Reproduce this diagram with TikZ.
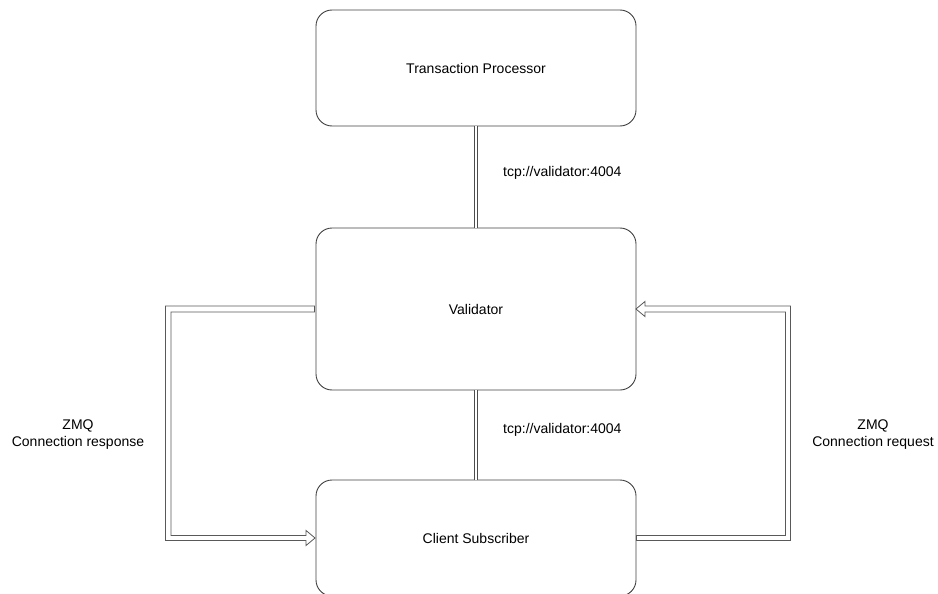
\documentclass[tikz,border=0pt]{standalone}
\usepackage{fontspec}
\setmainfont{Liberation Sans}
\usetikzlibrary{calc}
\begin{document}
\begin{tikzpicture}[x=1pt,y=-1pt,
  box/.style={draw=black!75, line width=0.9pt, rounded corners=16pt, minimum width=320pt, minimum height=116pt, inner sep=0pt, font=\fontsize{14}{17}\selectfont},
  lbl/.style={font=\fontsize{14}{17}\selectfont, inner sep=0pt, align=center},
  dbl/.style={draw=black!70, line width=0.8pt, double=white, double distance=2.2pt},
  flex/.style={draw=black!65, line width=0.8pt, fill=white, line join=miter}
]
\useasboundingbox (0,0) rectangle (938,594);
\node[box] (tp) at (476,68) {Transaction Processor};
\node[box, minimum height=162pt] (val) at (476,309) {Validator};
\node[box] (cs) at (476,538) {Client Subscriber};

\draw[dbl] (tp.south) -- (val.north);
\draw[dbl] (val.south) -- (cs.north);

\node[lbl, anchor=west] (t1) at (503,172.5) {tcp://validator:4004};
\node[lbl, anchor=west] (t2) at (503,429.5) {tcp://validator:4004};

\node[lbl] (zl) at (78,435) {ZMQ\\Connection response};
\node[lbl] (zr) at (873,435) {ZMQ\\Connection request};

% left flex arrow: Validator -> Client Subscriber
\draw[flex] ($(val.west)+(-1,-3)$) -- (165.5,306) -- (165.5,540.5) -- ($(cs.west)+(-9.5,2.5)$)
  -- ($(cs.west)+(-9.5,7.5)$) -- ($(cs.west)+(-0.5,0)$) -- ($(cs.west)+(-9.5,-7.5)$)
  -- ($(cs.west)+(-9.5,-2.5)$) -- (171,535.5) -- (171,312) -- ($(val.west)+(-1,3)$) -- cycle;

% right flex arrow: Client Subscriber -> Validator
\draw[flex] ($(cs.east)+(0,-2.5)$) -- (785.5,535.5) -- (785.5,312) -- ($(val.east)+(8.5,3)$)
  -- ($(val.east)+(8.5,7.5)$) -- ($(val.east)+(-0.5,0)$) -- ($(val.east)+(8.5,-7.5)$)
  -- ($(val.east)+(8.5,-3)$) -- (790.5,306) -- (790.5,540.5) -- ($(cs.east)+(0,2.5)$) -- cycle;
\end{tikzpicture}
\end{document}
